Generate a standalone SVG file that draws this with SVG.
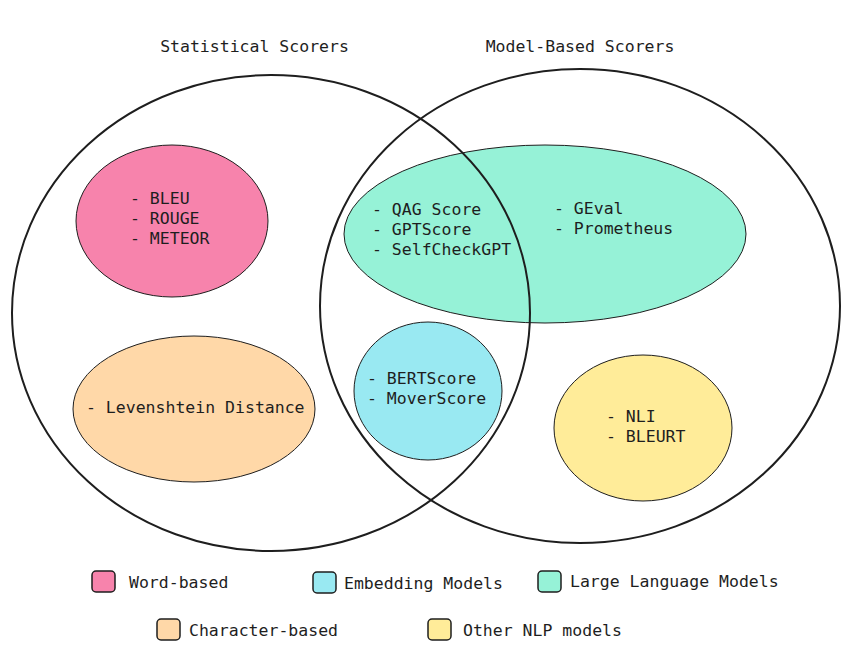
<svg xmlns="http://www.w3.org/2000/svg" width="853" height="653" viewBox="0 0 853 653">
<style>
.t{font-family:"DejaVu Sans Mono","Liberation Mono",monospace;font-size:16.5px;fill:#1e1e1e}
.e{stroke:#1e1e1e;stroke-width:1}
.big{fill:none;stroke:#1e1e1e;stroke-width:2}
.sw{stroke:#1e1e1e;stroke-width:1.5}
.pink{fill:#f783ac}.teal{fill:#96f2d7}.cyan{fill:#99e9f2}.orange{fill:#ffd8a8}.yellow{fill:#ffec99}
</style>
<rect width="853" height="653" fill="#ffffff"/>
<g id="word-based">
<ellipse class="e pink" cx="172" cy="221" rx="96" ry="76"/>
<text class="t" x="130" y="204">- BLEU</text>
<text class="t" x="130" y="224">- ROUGE</text>
<text class="t" x="130" y="244">- METEOR</text>
</g>
<g id="llm">
<ellipse class="e teal" cx="545" cy="234" rx="201" ry="89"/>
<text class="t" x="372" y="215">- QAG Score</text>
<text class="t" x="372" y="235">- GPTScore</text>
<text class="t" x="372" y="255">- SelfCheckGPT</text>
<text class="t" x="554" y="214">- GEval</text>
<text class="t" x="554" y="234">- Prometheus</text>
</g>
<g id="character-based">
<ellipse class="e orange" cx="194" cy="409" rx="121" ry="73"/>
<text class="t" x="86" y="413">- Levenshtein Distance</text>
</g>
<g id="embedding">
<ellipse class="e cyan" cx="428" cy="391" rx="74" ry="69"/>
<text class="t" x="367" y="384">- BERTScore</text>
<text class="t" x="367" y="404">- MoverScore</text>
</g>
<g id="other-nlp">
<ellipse class="e yellow" cx="643" cy="428" rx="89" ry="73"/>
<text class="t" x="606" y="422">- NLI</text>
<text class="t" x="606" y="442">- BLEURT</text>
</g>
<g id="statistical-scorers">
<ellipse class="big" cx="271" cy="313" rx="259" ry="238"/>
<text class="t" x="254.5" y="52" text-anchor="middle">Statistical Scorers</text>
</g>
<g id="model-based-scorers">
<ellipse class="big" cx="580" cy="306" rx="260" ry="237"/>
<text class="t" x="580" y="52" text-anchor="middle">Model-Based Scorers</text>
</g>
<g id="legend">
<rect class="sw pink" x="92" y="571" width="23" height="21" rx="4"/>
<text class="t" x="129" y="588">Word-based</text>
<rect class="sw cyan" x="313" y="572" width="23" height="21" rx="4"/>
<text class="t" x="344" y="589">Embedding Models</text>
<rect class="sw teal" x="538" y="571" width="23" height="21" rx="4"/>
<text class="t" x="570" y="587">Large Language Models</text>
<rect class="sw orange" x="157" y="619" width="23" height="21" rx="4"/>
<text class="t" x="189" y="636">Character-based</text>
<rect class="sw yellow" x="428" y="619" width="23" height="21" rx="4"/>
<text class="t" x="463" y="636">Other NLP models</text>
</g>
</svg>
